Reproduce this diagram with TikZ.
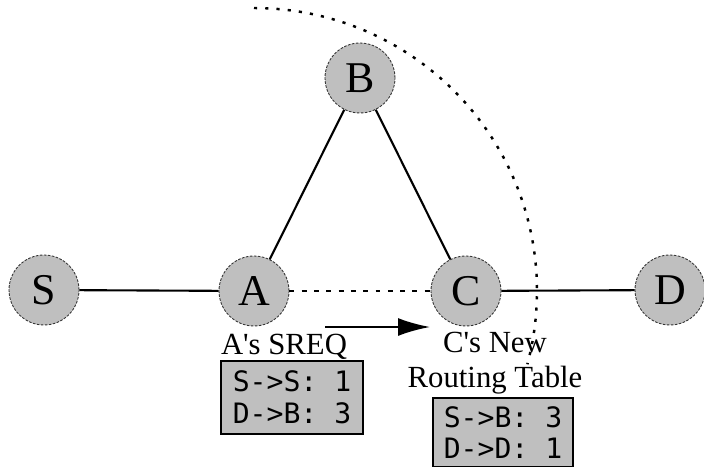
\documentclass[tikz,border=0pt]{standalone}
\usepackage{fontspec}
\setmainfont{Liberation Serif}
\newfontfamily\tablefont{DejaVu Sans Mono}
\usepackage{tikz}
\usetikzlibrary{shapes,arrows,positioning,calc,arrows.meta}

\tikzset{
    router/.style={circle, fill=gray!50, draw=black!80, line width=0.5pt,
        dash pattern=on 1.5pt off 0.8pt, minimum size=1.4cm, inner sep=0pt,
        font=\fontsize{25}{27}\selectfont},
    link/.style={line width=1.2pt},
    table/.style={rectangle, fill=gray!50, draw=black, line width=1.2pt,
        anchor=north west, align=left, inner xsep=0.14cm, inner ysep=0pt,
        font=\tablefont\fontsize{16}{18}\selectfont},
    caption/.style={font=\fontsize{17.5}{20}\selectfont, align=center}
}

\begin{document}
\begin{tikzpicture}[x=0.02cm, y=-0.02cm]
    \useasboundingbox (0,0) rectangle (704,467);

    % Routers
    \node [router] (S) at (44, 290) {S};
    \node [router] (A) at (254, 291) {A};
    \node [router] (B) at (360, 78) {B};
    \node [router] (C) at (466, 291) {C};
    \node [router] (D) at (670, 290) {D};

    % Links
    \draw [link] (S) -- (A);
    \draw [link] (A) -- (B);
    \draw [link] (B) -- (C);
    \draw [link] (C) -- (D);
    \draw [link, dash pattern=on 2.8pt off 4.2pt] (A) -- (C);

    % Range of A
    \draw [line width=1.4pt, dash pattern=on 1.8pt off 4.6pt]
        (A.center) ++(-90:283) arc [start angle=-90, end angle=15, radius=283];

    % SREQ travelling from A to C
    \coordinate (sreq tail) at (325, 327);
    \coordinate (sreq head) at (430, 327);
    \draw [link, -{Latex[length=0.64cm, width=0.36cm]}] (sreq tail) -- (sreq head);

    % Tables
    \node [caption, anchor=base] (sreq label) at (284, 354) {A\textquotesingle s SREQ};
    \node [table, minimum width=2.84cm, minimum height=1.46cm] (sreq table)
        at (220, 360) {S->S: 1\\D->B: 3};
    \node [caption, anchor=north] (new label) at (495, 326) {C\textquotesingle s New\\Routing Table};
    \node [table, minimum width=2.8cm, minimum height=1.38cm] (new table)
        at (432, 397) {S->B: 3\\D->D: 1};
\end{tikzpicture}
\end{document}
